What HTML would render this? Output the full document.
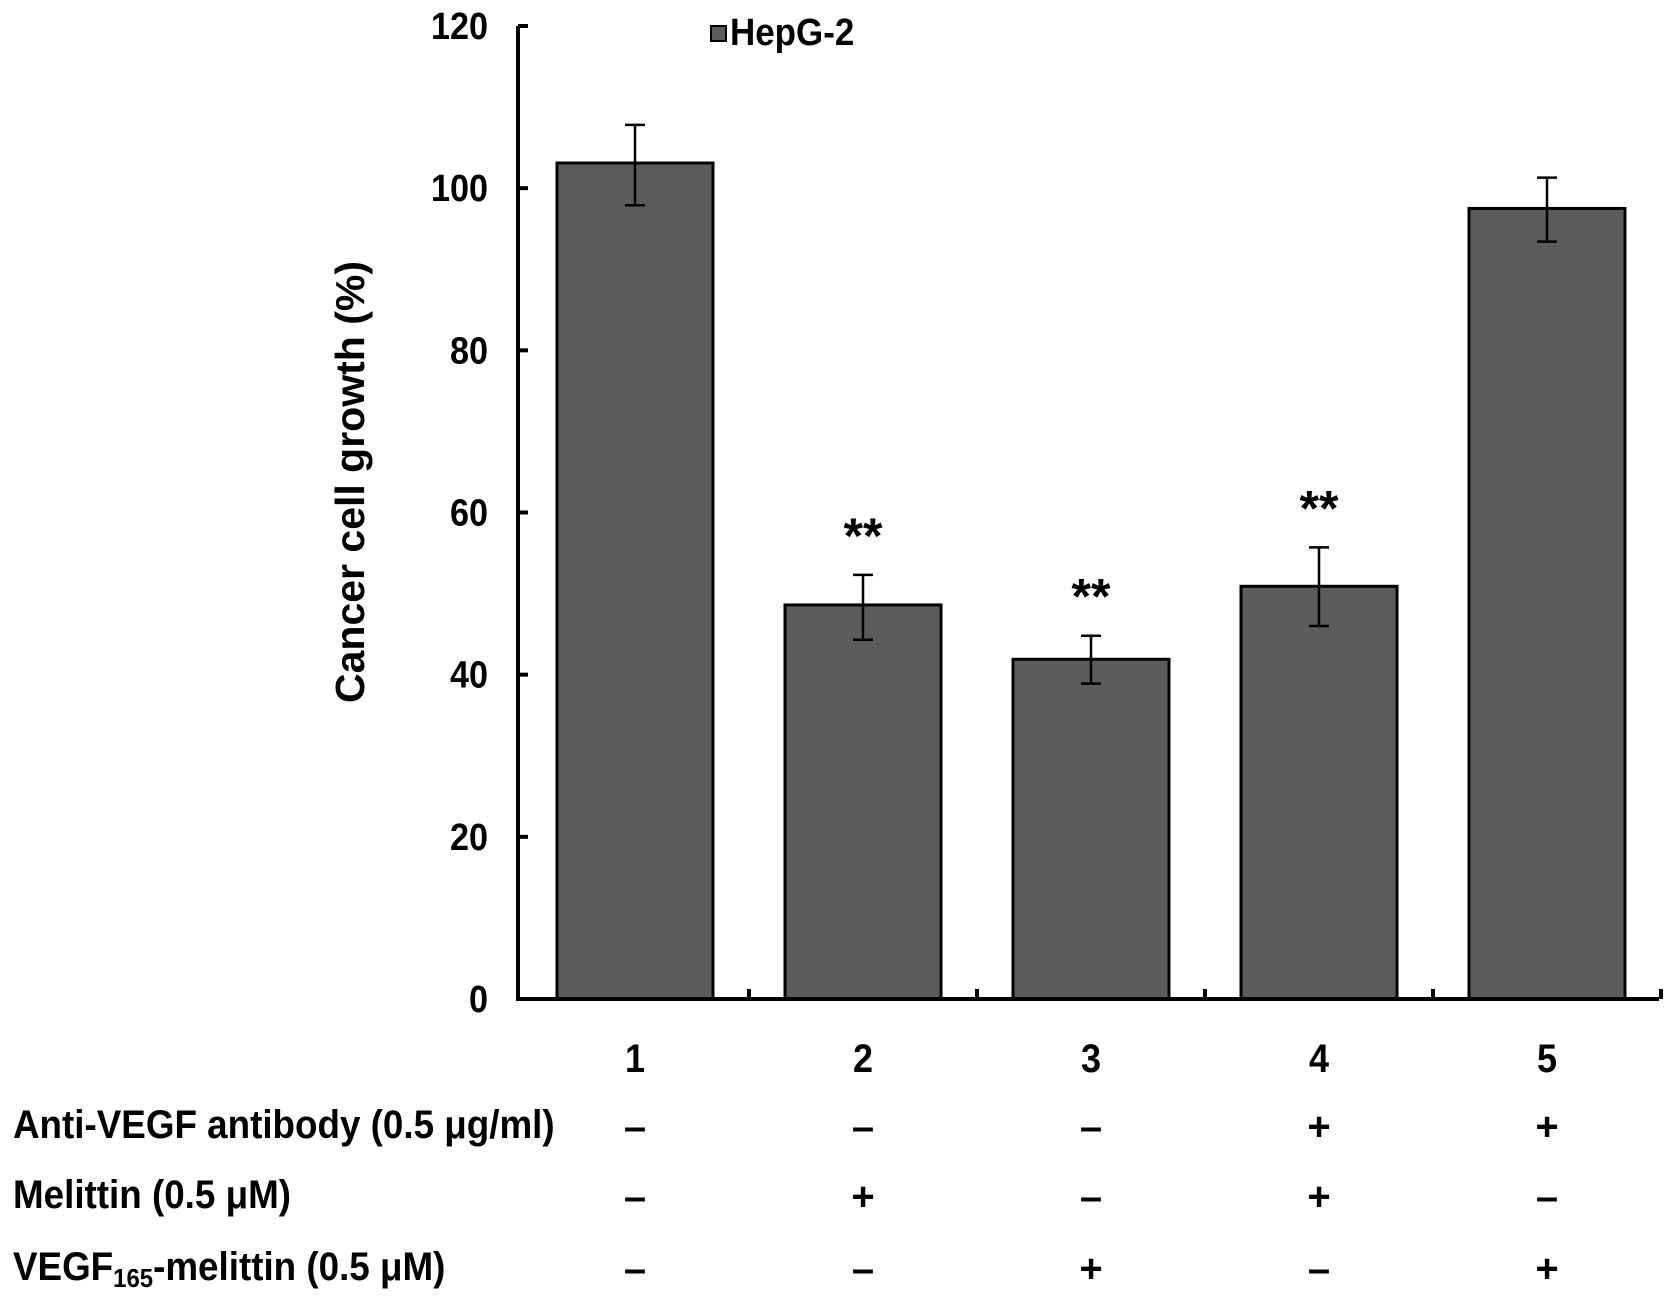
<!DOCTYPE html>
<html><head><meta charset="utf-8"><style>
body{margin:0;background:#fff;}
svg{display:block;}
text{font-family:"Liberation Sans",sans-serif;font-weight:bold;fill:#000;}
</style></head><body>
<svg id="chart" width="1677" height="1300" viewBox="0 0 1677 1300">
<g id="g"></g>
</svg>
<script>
const categories=["1","2","3","4","5"];
const values=[103.1,48.6,41.9,50.9,97.5];
const errHigh=[107.8,52.3,44.8,55.7,101.3];
const errLow=[97.9,44.3,38.9,46.0,93.4];
const stars=["","**","**","**",""];
const yTicks=[0,20,40,60,80,100,120];
const antiVEGF=["–","–","–","+","+"];
const melittin=["–","+","–","+","–"];
const vegfMel=["–","–","+","–","+"];

const NS="http://www.w3.org/2000/svg";
const g=document.getElementById('g');
const X0=518,Y0=999,Ytop=26,XEND=1659;
const y=v=>Y0-(v/120)*(Y0-Ytop);
const x=i=>635+i*228;
const BW=156;
function mk(t,a,p){const e=document.createElementNS(NS,t);for(const k in a)e.setAttribute(k,a[k]);(p||g).appendChild(e);return e;}

values.forEach((v,i)=>{
 const r=mk('rect',{x:x(i)-BW/2,y:y(v),width:BW,height:Y0-y(v),fill:'#5c5c5c',stroke:'#000','stroke-width':3});
 
 
 const eg=mk('g',{stroke:'#000','stroke-width':2.5});
 
 
 mk('line',{x1:x(i),x2:x(i),y1:y(errHigh[i]),y2:y(errLow[i])},eg);
 mk('line',{x1:x(i)-10,x2:x(i)+10,y1:y(errHigh[i]),y2:y(errHigh[i])},eg);
 mk('line',{x1:x(i)-10,x2:x(i)+10,y1:y(errLow[i]),y2:y(errLow[i])},eg);
 if(stars[i]){
  const s=mk('text',{x:x(i),y:y(errHigh[i])-22,'text-anchor':'middle','font-size':50});
  s.textContent=stars[i];
  
  
 }
 const c=mk('text',{x:x(i),y:1072,'text-anchor':'middle','font-size':40,transform:`translate(${x(i)} 0) scale(0.9 1) translate(${-x(i)} 0)`});
 c.textContent=categories[i];
 
 
 [[antiVEGF,1140],[melittin,1210],[vegfMel,1282]].forEach(([arr,yy],r)=>{
  const t=mk('text',{x:x(i),y:yy,'text-anchor':'middle','font-size':40});
  t.textContent=arr[i];
  
  
 });
});
const ax=mk('g',{stroke:'#000','stroke-width':4});


mk('line',{x1:X0,x2:X0,y1:Ytop,y2:Y0+2},ax);
mk('line',{x1:X0-2,x2:XEND,y1:Y0,y2:Y0},ax);
yTicks.forEach(t=>{
 mk('line',{x1:X0,x2:X0+10,y1:y(t),y2:y(t)},ax);
 const l=mk('text',{x:488,y:y(t)+13,'text-anchor':'end','font-size':38,transform:`translate(488 0) scale(0.9 1) translate(-488 0)`});
 l.textContent=t;
 
 
});
for(let i=0;i<5;i++){mk('line',{x1:x(i)+114,x2:x(i)+114,y1:Y0,y2:Y0-10},ax);}
</script>
<svg width="1677" height="1300" style="position:absolute;left:0;top:0">
<text x="364" y="482" font-size="41" text-anchor="middle" transform="rotate(-90 364 482)" style="font-family:'Liberation Sans',sans-serif;font-weight:bold">Cancer cell growth (%)</text>
<rect x="711" y="26" width="15" height="15" fill="#5c5c5c" stroke="#000" stroke-width="2"/>
<text x="730" y="45" font-size="38" transform="translate(730 0) scale(0.92 1) translate(-730 0)" style="font-family:'Liberation Sans',sans-serif;font-weight:bold">HepG-2</text>
<g style="font-family:'Liberation Sans',sans-serif;font-weight:bold" font-size="40" transform="translate(13 0) scale(0.92 1) translate(-13 0)">
<text x="13" y="1138">Anti-VEGF antibody (0.5 μg/ml)</text>
<text x="13" y="1208">Melittin (0.5 μM)</text>
<text x="13" y="1280">VEGF<tspan font-size="26" dy="7">165</tspan><tspan dy="-7">-melittin (0.5 μM)</tspan></text>
</g>
</svg>
</body></html>
